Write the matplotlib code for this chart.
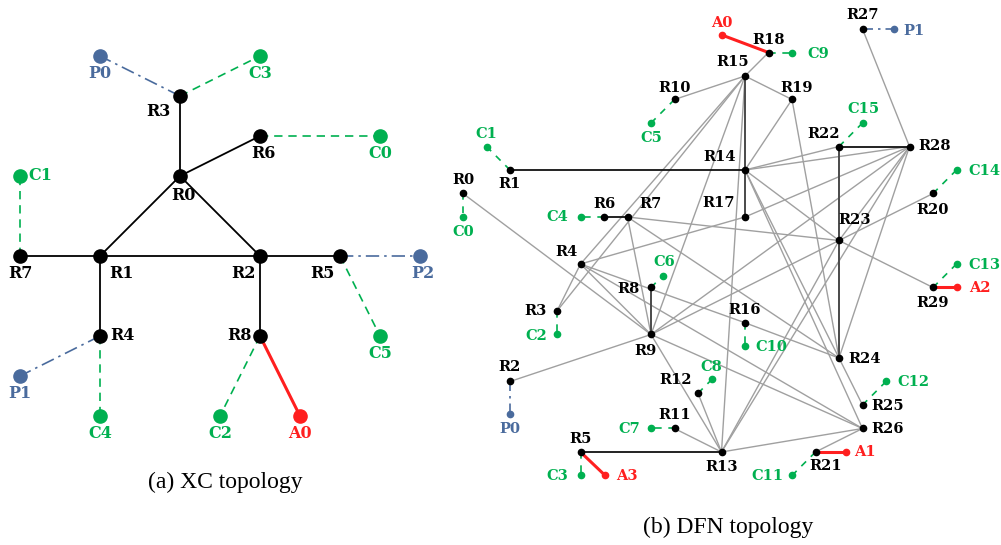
import matplotlib
matplotlib.use('Agg')
import matplotlib.pyplot as plt

# ---------------- (a) XC topology : node grid positions ----------------
xc_names = ['R0', 'R1', 'R2', 'R3', 'R4', 'R5', 'R6', 'R7', 'R8',
            'P0', 'P1', 'P2', 'C0', 'C1', 'C2', 'C3', 'C4', 'C5', 'A0']
xc_x = [2, 1, 3, 2, 1, 4, 3, 0, 3,
        1, 0, 5, 4.5, 0, 2.5, 3, 1, 4.5, 3.5]
xc_y = [3, 5, 5, 1, 7, 5, 2, 5, 7,
        0, 8, 5, 2, 3, 9, 0, 9, 7, 9]
xc_router_links = [('R3', 'R0'), ('R0', 'R6'), ('R0', 'R1'), ('R0', 'R2'), ('R7', 'R1'),
                   ('R1', 'R2'), ('R2', 'R5'), ('R1', 'R4'), ('R2', 'R8')]
xc_client_links = [('R3', 'C3'), ('R6', 'C0'), ('R7', 'C1'), ('R5', 'C5'), ('R4', 'C4'), ('R8', 'C2')]
xc_provider_links = [('R3', 'P0'), ('R5', 'P2'), ('R4', 'P1')]
xc_attacker_links = [('R8', 'A0')]
# label placement (dx, dy in pixels, up is positive, ha)
xc_label_pos = {'R0': (3, -20, 'center'), 'R1': (22, -18, 'center'), 'R2': (-17, -18, 'center'),
                'R3': (-22, -16, 'center'), 'R4': (10, 0, 'left'), 'R5': (-18, -18, 'center'),
                'R6': (3, -18, 'center'), 'R7': (0, -18, 'center'), 'R8': (-8, 0, 'right'),
                'P0': (0, -18, 'center'), 'P1': (0, -17, 'center'), 'P2': (3, -18, 'center'),
                'C0': (0, -18, 'center'), 'C1': (8, 0, 'left'), 'C2': (0, -18, 'center'),
                'C3': (0, -18, 'center'), 'C4': (0, -18, 'center'), 'C5': (0, -18, 'center'),
                'A0': (0, -18, 'center')}

# ---------------- (b) DFN topology : node grid positions ----------------
dfn_names = ['R0', 'R1', 'R2', 'R3', 'R4', 'R5', 'R6', 'R7', 'R8', 'R9',
             'R10', 'R11', 'R12', 'R13', 'R14', 'R15', 'R16', 'R17', 'R18', 'R19',
             'R20', 'R21', 'R22', 'R23', 'R24', 'R25', 'R26', 'R27', 'R28', 'R29',
             'C0', 'C1', 'C2', 'C3', 'C4', 'C5', 'C6', 'C7', 'C8', 'C9',
             'C10', 'C11', 'C12', 'C13', 'C14', 'C15',
             'P0', 'P1', 'A0', 'A1', 'A2', 'A3']
dfn_x = [0, 2, 2, 4, 5, 5, 6, 7, 8, 8,
         9, 9, 10, 11, 12, 12, 12, 12, 13, 14,
         20, 15, 16, 16, 16, 17, 17, 17, 19, 20,
         0, 1, 4, 5, 5, 8, 8.5, 8, 10.6, 14,
         12, 14, 18, 21, 21, 17,
         2, 18.35, 11, 16.3, 21, 6.05]
dfn_y = [7, 6, 15, 12, 10, 18, 8, 8, 11, 13,
         3, 17, 15.5, 18, 6, 2, 12.5, 8, 1, 3,
         7, 18, 5, 9, 14, 16, 17, 0, 5, 11,
         8, 5, 13, 19, 8, 4, 10.5, 17, 14.9, 1,
         13.5, 19, 15, 10, 6, 4,
         16.4, 0, 0.25, 18, 11, 19]
dfn_black_links = [('R1', 'R14'), ('R22', 'R28'), ('R6', 'R7'), ('R5', 'R13')]
dfn_dark_links = [('R14', 'R15'), ('R14', 'R17'), ('R22', 'R23'), ('R23', 'R24'), ('R8', 'R9')]
dfn_links = [('R0', 'R9'), ('R2', 'R9'), ('R3', 'R4'), ('R4', 'R9'), ('R4', 'R15'), ('R3', 'R15'),
             ('R4', 'R16'), ('R16', 'R24'), ('R4', 'R17'), ('R7', 'R9'), ('R7', 'R23'), ('R7', 'R24'),
             ('R9', 'R15'), ('R9', 'R23'), ('R9', 'R26'), ('R9', 'R13'), ('R12', 'R13'), ('R11', 'R13'),
             ('R10', 'R15'), ('R15', 'R18'), ('R15', 'R19'), ('R15', 'R13'), ('R14', 'R19'),
             ('R14', 'R22'), ('R14', 'R28'), ('R14', 'R23'), ('R14', 'R25'), ('R14', 'R26'),
             ('R19', 'R24'), ('R27', 'R28'), ('R23', 'R28'), ('R24', 'R28'), ('R13', 'R28'),
             ('R9', 'R28'), ('R17', 'R28'), ('R23', 'R29'), ('R20', 'R23'), ('R13', 'R26'),
             ('R21', 'R26'), ('R13', 'R23'), ('R4', 'R26')]
dfn_client_links = [('R0', 'C0'), ('R1', 'C1'), ('R3', 'C2'), ('R5', 'C3'), ('R6', 'C4'), ('R10', 'C5'),
                    ('R8', 'C6'), ('R11', 'C7'), ('R12', 'C8'), ('R18', 'C9'), ('R16', 'C10'),
                    ('R21', 'C11'), ('R25', 'C12'), ('R29', 'C13'), ('R20', 'C14'), ('R22', 'C15')]
dfn_provider_links = [('R2', 'P0'), ('R27', 'P1')]
dfn_attacker_links = [('R18', 'A0'), ('R21', 'A1'), ('R29', 'A2'), ('R5', 'A3')]
dfn_label_pos = {'R0': (0, 13, 'center'), 'R1': (0, -14, 'center'), 'R2': (0, 14, 'center'),
                 'R3': (-10, 0, 'right'), 'R4': (-14, 12, 'center'), 'R5': (0, 13, 'center'),
                 'R6': (0, 13, 'center'), 'R7': (23, 13, 'center'), 'R8': (-11, -2, 'right'),
                 'R9': (-6, -17, 'center'), 'R10': (0, 12, 'center'), 'R11': (0, 13, 'center'),
                 'R12': (-22, 13, 'center'), 'R13': (0, -15, 'center'), 'R14': (-25, 13, 'center'),
                 'R15': (-12, 14, 'center'), 'R16': (0, 13, 'center'), 'R17': (-26, 14, 'center'),
                 'R18': (0, 13, 'center'), 'R19': (5, 12, 'center'), 'R20': (0, -16, 'center'),
                 'R21': (10, -14, 'center'), 'R22': (-15, 13, 'center'), 'R23': (16, 20, 'center'),
                 'R24': (9, -1, 'left'), 'R25': (9, -1, 'left'), 'R26': (9, -1, 'left'),
                 'R27': (0, 14, 'center'), 'R28': (9, 0, 'left'), 'R29': (0, -16, 'center'),
                 'C0': (0, -15, 'center'), 'C1': (0, 13, 'center'), 'C2': (-10, -2, 'right'),
                 'C3': (-12, -1, 'right'), 'C4': (-12, 0, 'right'), 'C5': (0, -15, 'center'),
                 'C6': (1, 14, 'center'), 'C7': (-11, -1, 'right'), 'C8': (-1, 12, 'center'),
                 'C9': (15, -1, 'left'), 'C10': (10, -1, 'left'), 'C11': (-9, -1, 'right'),
                 'C12': (11, -1, 'left'), 'C13': (12, -1, 'left'), 'C14': (12, -1, 'left'),
                 'C15': (1, 14, 'center'), 'P0': (0, -15, 'center'), 'P1': (9, -2, 'left'),
                 'A0': (0, 12, 'center'), 'A1': (8, 0, 'left'), 'A2': (13, -1, 'left'),
                 'A3': (11, -1, 'left')}

GREEN = '#00b050'
BLUE = '#4a6b9d'
RED = '#ff1f1f'
label_font = dict(family='DejaVu Serif', weight='bold')


def node_color(n):
    return {'C': GREEN, 'P': BLUE, 'A': RED}.get(n[0], 'black')


def draw_topology(ax, names, xs, ys, groups, label_pos, msize, fsize):
    pos = {n: (x, y) for n, x, y in zip(names, xs, ys)}
    for links, kw in groups:
        for a, b in links:
            ax.plot([pos[a][0], pos[b][0]], [pos[a][1], pos[b][1]], zorder=1, **kw)
    for n in names:
        ax.plot(*pos[n], 'o', color=node_color(n), markersize=msize, zorder=3)
        dx, dy, ha = label_pos[n]
        ax.annotate(n, pos[n], xytext=(dx, dy), textcoords='offset pixels',
                    ha=ha, va='center', color=node_color(n), fontsize=fsize, **label_font)


fig = plt.figure(figsize=(10.01, 5.45), dpi=100)

ax_a = fig.add_axes([0, 0, 450 / 1001, 1])
ax_a.set_xlim(-0.25, 5.375)
ax_a.set_ylim(12.225, -1.4)
ax_a.axis('off')
draw_topology(ax_a, xc_names, xc_x, xc_y, [
    (xc_router_links, dict(color='black', lw=1.3)),
    (xc_client_links, dict(color=GREEN, lw=1.2, ls=(0, (5, 3.5)))),
    (xc_provider_links, dict(color=BLUE, lw=1.2, ls=(0, (8, 3, 1.5, 3)))),
    (xc_attacker_links, dict(color=RED, lw=2.2)),
], xc_label_pos, 9.5, 11.5)
ax_a.text(0.5, 0.114, '(a) XC topology', transform=ax_a.transAxes, ha='center', va='center',
          family='Liberation Serif', fontsize=17)

ax_b = fig.add_axes([450 / 1001, 0, 551 / 1001, 1])
ax_b.set_xlim(-13 / 23.5, 538 / 23.5)
ax_b.set_ylim(516 / 23.5, -29 / 23.5)
ax_b.axis('off')
draw_topology(ax_b, dfn_names, dfn_x, dfn_y, [
    (dfn_links, dict(color='#a0a0a0', lw=1.0)),
    (dfn_dark_links, dict(color='#4a4a4a', lw=1.4)),
    (dfn_black_links, dict(color='#111111', lw=1.3)),
    (dfn_client_links, dict(color=GREEN, lw=1.2, ls=(0, (4, 4)))),
    (dfn_provider_links, dict(color=BLUE, lw=1.2, ls=(0, (6, 3, 1.5, 3)))),
    (dfn_attacker_links, dict(color=RED, lw=2.2)),
], dfn_label_pos, 4.5, 10.5)
ax_b.text(0.505, 0.033, '(b) DFN topology', transform=ax_b.transAxes, ha='center', va='center',
          family='Liberation Serif', fontsize=17)

fig.savefig('out.png', dpi=100)
